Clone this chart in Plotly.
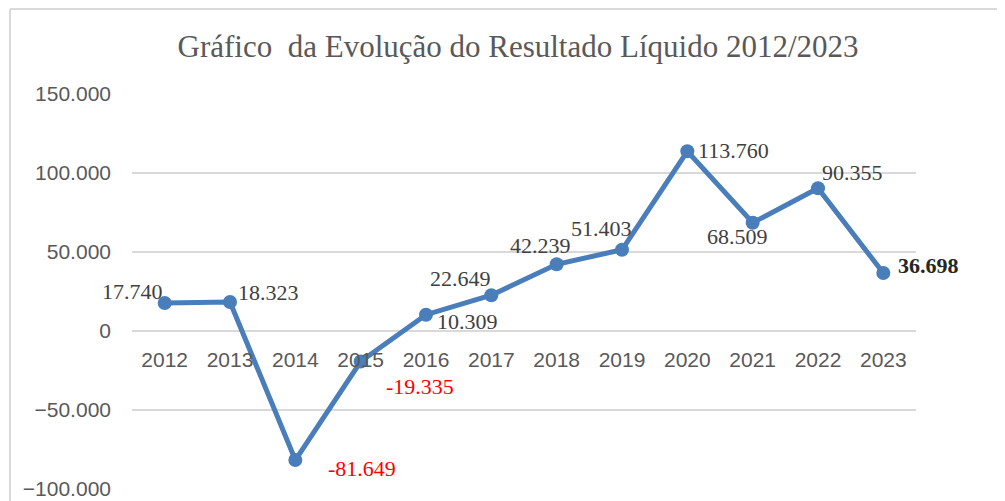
import plotly.graph_objects as go

years = ["2012", "2013", "2014", "2015", "2016", "2017", "2018", "2019", "2020", "2021", "2022", "2023"]
resultado = [17740, 18323, -81649, -19335, 10309, 22649, 42239, 51403, 113760, 68509, 90355, 36698]
y_ticks = [-100000, -50000, 0, 50000, 100000, 150000]

# label offsets (px) relative to each point: (dx, dy up)
label_offsets = [(-32, 11), (38, 10), (67, -8), (59, -25), (41, -7), (-31, 17),
                 (-16, 19), (-21, 21), (46, 1), (-15, -14), (34, 16), (45, 8)]


def fmt(v):
    return f"{v:,}".replace(",", ".")


fig = go.Figure()
fig.add_trace(go.Scatter(
    x=years, y=resultado, mode="lines+markers",
    line=dict(color="#4A7EBB", width=5),
    marker=dict(color="#4A7EBB", size=14),
    hoverinfo="x+y", showlegend=False,
))

for i, v in enumerate(resultado):
    dx, dy = label_offsets[i]
    last = i == len(resultado) - 1
    color = "#FF0000" if v < 0 else ("#262626" if last else "#404040")
    txt = fmt(v)
    if last:
        txt = f"<b>{txt}</b>"
    fig.add_annotation(
        x=i, y=v, xref="x", yref="y", text=txt, showarrow=False, xshift=dx, yshift=dy,
        font=dict(family="Liberation Serif, Times New Roman, serif", size=22, color=color),
    )

# outer chart frame (top and left edges visible)
fig.add_shape(type="line", xref="paper", yref="paper", x0=-0.1556, x1=1.13, y0=1.215, y1=1.215,
              line=dict(color="#D9D9D9", width=2))
fig.add_shape(type="line", xref="paper", yref="paper", x0=-0.1556, x1=-0.1556, y0=1.215, y1=-0.06,
              line=dict(color="#D9D9D9", width=2))

fig.update_layout(
    width=1005, height=501,
    margin=dict(l=124, r=97, t=86, b=20, autoexpand=False),
    paper_bgcolor="white", plot_bgcolor="white",
    separators=",.",
    title=dict(
        text="Gráfico  da Evolução do Resultado Líquido 2012/2023",
        x=0.5075, xanchor="center", y=0.924, yanchor="middle",
        font=dict(family="Liberation Serif, Times New Roman, serif", size=31, color="#595959"),
    ),
    xaxis=dict(
        type="category", range=[-0.5, 11.5],
        anchor="free", position=0.4,
        showgrid=False, showline=False, zeroline=False, ticks="",
        ticklabelstandoff=14, automargin=False,
        tickfont=dict(family="Liberation Sans, Arial, sans-serif", size=21, color="#595959"),
    ),
    yaxis=dict(
        range=[-100000, 150000], tickvals=y_ticks, tickformat=",d",
        showgrid=True, gridcolor="#D9D9D9", gridwidth=2,
        zeroline=True, zerolinecolor="#D9D9D9", zerolinewidth=2,
        showline=False, ticks="", ticklabelstandoff=20, automargin=False,
        tickfont=dict(family="Liberation Sans, Arial, sans-serif", size=21, color="#595959"),
    ),
)

fig.write_html("out.html")
